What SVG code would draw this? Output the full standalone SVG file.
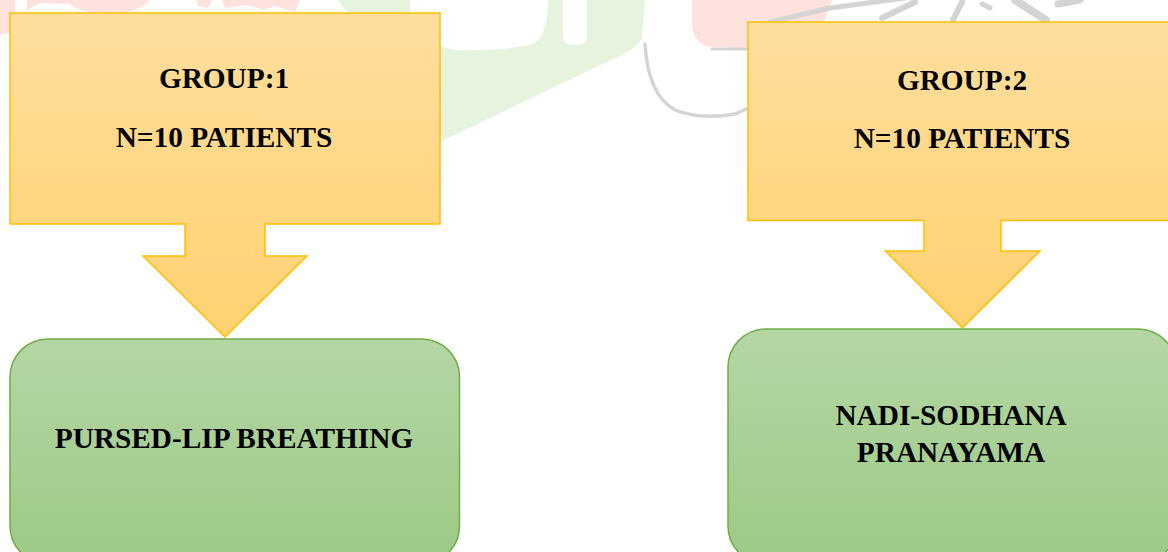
<svg xmlns="http://www.w3.org/2000/svg" width="1168" height="552" viewBox="0 0 1168 552">
  <defs>
    <linearGradient id="gold" x1="0" y1="0" x2="0" y2="1">
      <stop offset="0" stop-color="#FFDE9E"/>
      <stop offset="1" stop-color="#FFD170"/>
    </linearGradient>
    <linearGradient id="green" x1="0" y1="0" x2="0" y2="1">
      <stop offset="0" stop-color="#B4D6A5"/>
      <stop offset="1" stop-color="#9DC985"/>
    </linearGradient>
    <style>
      .callout { fill: url(#gold); stroke: #FFC000; stroke-width: 1.5; }
      .box { fill: url(#green); stroke: #70AD47; stroke-width: 1.5; }
      .lbl { font-family: "Liberation Serif", "Times New Roman", serif; font-weight: bold; font-size: 29.3px; fill: #000; text-anchor: middle; }
      .wm-pink { fill: #FFE2DE; }
      .wm-green { fill: #E6F3DD; }
      .wm-white { fill: #FFFFFF; }
      .wm-gray { fill: none; stroke: #D4D4D4; stroke-linecap: round; }
    </style>
  </defs>
  <rect width="1168" height="552" fill="#FFFFFF"/>

  <g id="watermark">
    <path class="wm-pink" d="M0,0 H15 L15,30 L5,34 L0,34 Z"/>
    <path class="wm-pink" d="M27,0 H150 Q140,12 115,13 Q80,14 70,4 L40,3 Q30,8 27,12 Z"/>
    <path class="wm-pink" d="M196,0 H212 L208,8 L198,6 Z"/>
    <path class="wm-pink" d="M222,0 H300 L295,12 Q285,9 275,6 L262,10 Q250,4 240,6 L225,8 Z"/>
    <path class="wm-green" d="M338,0 H645 L642,38 Q633,52 615,58 L440,142 L440,60 Q410,40 380,30 Q345,15 338,0 Z"/>
    <path class="wm-white" d="M410,0 H548 Q548,40 530,45 Q490,52 455,50 Q420,44 410,20 Z"/>
    <path class="wm-white" d="M563,0 H587 V37 Q587,45 575,45 Q563,45 563,37 Z"/>
    <path class="wm-pink" d="M692,0 H832 L818,40 Q800,48 760,48 L710,47 Q694,44 692,25 Z"/>
    <path class="wm-gray" stroke-width="3" d="M712,49 H765"/>
    <path class="wm-gray" stroke-width="3.5" d="M645,44 Q648,95 675,110 Q700,120 735,114 L748,108"/>
    <path class="wm-gray" stroke-width="5" d="M770,22 L830,8 L905,-2"/>
    <path class="wm-gray" stroke-width="6" d="M882,18 L915,2"/>
    <path class="wm-gray" stroke-width="6" d="M953,20 L962,2"/>
    <path class="wm-gray" stroke-width="5" d="M982,4 L990,8"/>
    <path class="wm-gray" stroke-width="8" d="M1015,0 L1046,20"/>
    <path class="wm-gray" stroke-width="7" d="M1058,4 L1080,0"/>
  </g>

  <g id="connectors"></g>

  <g id="group1">
    <polygon class="callout" points="10,13 440,13 440,224 265,224 265,256 307,256 225,337 143,256 185,256 185,224 10,224"/>
    <text class="lbl" x="224" y="88">GROUP:1</text>
    <text class="lbl" x="224" y="147">N=10 PATIENTS</text>
  </g>

  <g id="group2">
    <polygon class="callout" points="748,22 1178,22 1178,220.5 1001,220.5 1001,251 1040,251 962.5,328 885.5,251 924,251 924,220.5 748,220.5"/>
    <text class="lbl" x="962" y="90">GROUP:2</text>
    <text class="lbl" x="962" y="148">N=10 PATIENTS</text>
  </g>

  <g id="pursed-lip">
    <rect class="box" x="10" y="339" width="449.5" height="225" rx="38" ry="38"/>
    <text class="lbl" x="234" y="448">PURSED-LIP BREATHING</text>
  </g>

  <g id="nadi-sodhana">
    <rect class="box" x="728" y="329" width="448" height="235" rx="38" ry="38"/>
    <text class="lbl" x="951" y="425">NADI-SODHANA</text>
    <text class="lbl" x="951" y="462">PRANAYAMA</text>
  </g>
</svg>
